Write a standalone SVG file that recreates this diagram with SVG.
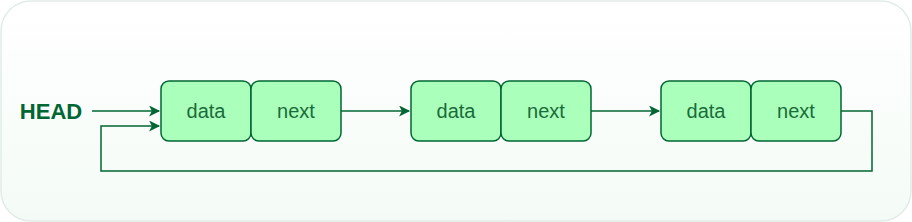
<svg xmlns="http://www.w3.org/2000/svg" width="912" height="222" viewBox="0 0 912 222">
<defs>
<linearGradient id="bg" x1="0" y1="0" x2="0" y2="1">
<stop offset="0" stop-color="#ffffff"/>
<stop offset="1" stop-color="#f4fbf6"/>
</linearGradient>
<marker id="ah" viewBox="0 0 10 10" refX="9" refY="5" markerWidth="12" markerHeight="11" markerUnits="userSpaceOnUse" orient="auto">
<path d="M0,0 L10,5 L0,10 L2.5,5 Z" fill="#006633"/>
</marker>
<style>
.cell{fill:#aaffbb;stroke:#006633;stroke-width:1.5}
.lbl{font-family:"Liberation Sans",Arial,sans-serif;font-size:20px;fill:#1a6b3a;text-anchor:middle;dominant-baseline:central}
.conn{fill:none;stroke:#006633;stroke-width:1.5}
</style>
</defs>
<rect x="1" y="1" width="910" height="220" rx="30" fill="url(#bg)" stroke="#e2ece7" stroke-width="1.5"/>
<text x="51" y="111" font-family="'Liberation Sans',Arial,sans-serif" font-size="22" font-weight="bold" fill="#006633" text-anchor="middle" dominant-baseline="central">HEAD</text>
<g id="node1">
<rect class="cell" x="161" y="81" width="90" height="60" rx="8"/>
<text class="lbl" x="206" y="111">data</text>
<rect class="cell" x="251" y="81" width="90" height="60" rx="8"/>
<text class="lbl" x="296" y="111">next</text>
</g>
<g id="node2">
<rect class="cell" x="411" y="81" width="90" height="60" rx="8"/>
<text class="lbl" x="456" y="111">data</text>
<rect class="cell" x="501" y="81" width="90" height="60" rx="8"/>
<text class="lbl" x="546" y="111">next</text>
</g>
<g id="node3">
<rect class="cell" x="661" y="81" width="90" height="60" rx="8"/>
<text class="lbl" x="706" y="111">data</text>
<rect class="cell" x="751" y="81" width="90" height="60" rx="8"/>
<text class="lbl" x="796" y="111">next</text>
</g>
<g id="connectors">
<path class="conn" d="M92,111 L159,111" marker-end="url(#ah)"/>
<path class="conn" d="M341,111 L409,111" marker-end="url(#ah)"/>
<path class="conn" d="M591,111 L659,111" marker-end="url(#ah)"/>
<path class="conn" d="M841,111 L872,111 L872,171 L101,171 L101,126 L159,126" marker-end="url(#ah)"/>
</g>
</svg>
